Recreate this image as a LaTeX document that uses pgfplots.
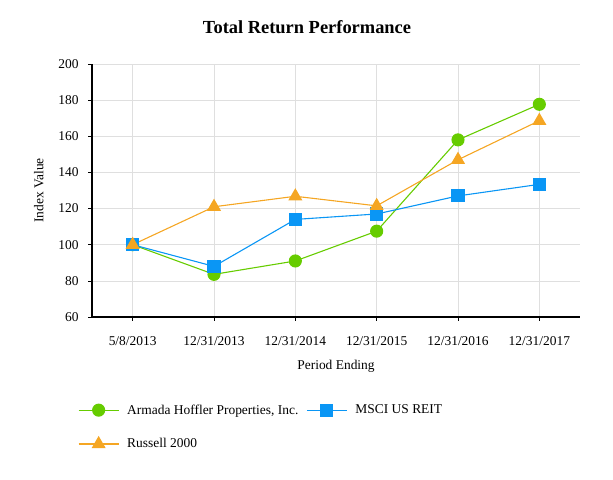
\documentclass[border=0pt]{standalone}
\usepackage{pgfplots}
\pgfplotsset{compat=1.18}
\usepackage{fontspec}
\setmainfont{Liberation Serif}
\definecolor{cgreen}{HTML}{66CC00}
\definecolor{cblue}{HTML}{0A96F5}
\definecolor{corange}{HTML}{F5A623}
\begin{document}
\begin{tikzpicture}[x=1bp,y=1bp]
\useasboundingbox (0,0) rectangle (613,480);
\node[font=\fontsize{18.5}{20}\selectfont\bfseries] at (307,453) {Total Return Performance};
\begin{axis}[
  at={(92bp,163bp)}, anchor=south west,
  scale only axis, width=488bp, height=253bp,
  xmin=-0.5, xmax=5.5, ymin=60, ymax=200,
  ytick={60,80,...,200},
  xtick={0,...,5},
  xticklabels={5/8/2013,12/31/2013,12/31/2014,12/31/2015,12/31/2016,12/31/2017},
  axis lines*=left,
  axis line style={black, line width=1.2pt},
  grid=major, major grid style={gray!25, line width=0.6pt},
  tick style={black, line width=0.6pt},
  major tick length=4bp,
  tick align=outside,
  ticklabel style={font=\fontsize{13.5}{15}\selectfont},
  /pgf/number format/assume math mode=true,
  xticklabel style={yshift=-12bp},
  yticklabel style={xshift=-6bp},
  xlabel={Period Ending}, ylabel={Index Value},
  label style={font=\fontsize{13.5}{15}\selectfont},
  xlabel style={yshift=-8bp},
  ylabel style={yshift=8bp},
  legend columns=2,
  legend style={at={(axis description cs:-0.035,-0.33)}, anchor=north west, draw=none,
    font=\fontsize{13.5}{15}\selectfont, column sep=6bp, row sep=19bp},
  legend cell align=left,
  legend image code/.code={\draw[mark repeat=2,mark phase=2] plot coordinates {(0bp,0bp)(20bp,0bp)(40bp,0bp)};},
]
\addplot[cgreen, line width=1.1pt, mark=*, mark size=6bp, mark options={fill=cgreen, draw=cgreen}]
  coordinates {(0,100)(1,83.6)(2,91)(3,107.5)(4,158)(5,177.7)};
\addlegendentry{Armada Hoffler Properties, Inc.}
\addplot[cblue, line width=1.1pt, mark=square*, mark size=6bp, mark options={fill=cblue, draw=cblue}]
  coordinates {(0,100)(1,88)(2,114)(3,117)(4,127)(5,133.4)};
\addlegendentry{MSCI US REIT}
\addplot[corange, line width=1.1pt, mark=triangle*, mark size=7bp, mark options={fill=corange, draw=corange}]
  coordinates {(0,100)(1,121)(2,126.8)(3,121.5)(4,147)(5,168.6)};
\addlegendentry{Russell 2000}
\end{axis}
\end{tikzpicture}
\end{document}
